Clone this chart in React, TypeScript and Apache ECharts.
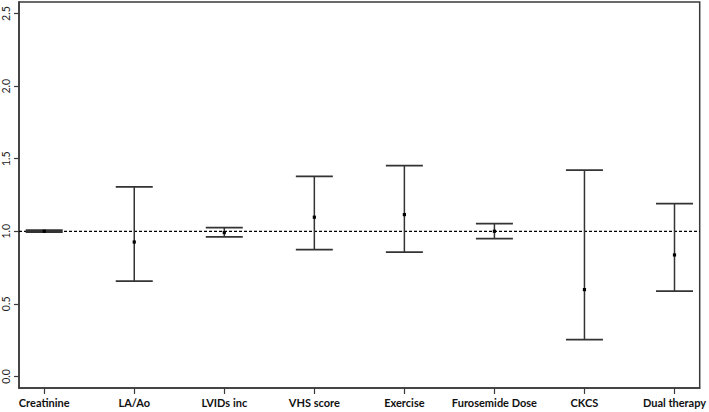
import React, { useEffect, useRef } from "react";
import * as echarts from "echarts";

const categories = ["Creatinine", "LA/Ao", "LVIDs inc", "VHS score", "Exercise", "Furosemide Dose", "CKCS", "Dual therapy"];
const estimates = [1.0, 0.926, 0.991, 1.097, 1.115, 1.0, 0.598, 0.837];
const lowerCI = [0.995, 0.657, 0.961, 0.874, 0.857, 0.95, 0.253, 0.588];
const upperCI = [1.008, 1.306, 1.025, 1.379, 1.453, 1.053, 1.421, 1.191];
const yTicks = [0, 0.5, 1.0, 1.5, 2.0, 2.5];
const referenceValue = 1.0;

export default function App() {
  const ref = useRef<HTMLDivElement>(null);
  useEffect(() => {
    if (!ref.current) return;
    const chart = echarts.init(ref.current, null, { renderer: "svg" });
    const xPos = categories.map((_, i) => i + 1);
    const ebData = categories.map((_, i) => [i + 1, lowerCI[i], upperCI[i], estimates[i]]);
    const axisColor = "#3a3a3a";
    chart.setOption({
      animation: false,
      backgroundColor: "#ffffff",
      grid: {
        left: 17,
        right: 3,
        top: 2,
        bottom: 24,
        show: true,
        borderColor: axisColor,
        borderWidth: 1.5,
        backgroundColor: "transparent",
      },
      xAxis: {
        type: "value",
        min: 0.72,
        max: 8.28,
        splitLine: { show: false },
        axisLine: { show: true, onZero: false, lineStyle: { color: axisColor, width: 1.5 } },
        axisTick: { show: true, customValues: xPos, length: 6, lineStyle: { color: axisColor, width: 1.2 } },
        axisLabel: {
          customValues: xPos,
          margin: 9,
          formatter: (v: number) => categories[Math.round(v) - 1] ?? "",
          fontFamily: "Lato, 'Open Sans', sans-serif",
          fontWeight: "bold",
          fontSize: 11,
          color: "#111",
        },
      },
      yAxis: {
        type: "value",
        min: -0.08,
        max: 2.58,
        splitLine: { show: false },
        axisLine: { show: true, lineStyle: { color: axisColor, width: 1.5 } },
        axisTick: { show: true, customValues: yTicks, length: 5, lineStyle: { color: axisColor, width: 1.2 } },
        axisLabel: {
          customValues: yTicks,
          rotate: 90,
          margin: 8,
          formatter: (v: number) => v.toFixed(1),
          fontFamily: "Lato, 'Open Sans', sans-serif",
          fontSize: 10.5,
          color: "#222",
        },
      },
      series: [
        {
          type: "line",
          data: [[0.72, referenceValue], [8.28, referenceValue]],
          symbol: "none",
          lineStyle: { color: "#000", width: 1.2, type: [3, 2] },
          silent: true,
          z: 1,
        },
        {
          type: "custom",
          data: ebData,
          z: 3,
          renderItem: (params: any, api: any) => {
            const x = api.value(0);
            const lo = api.coord([x, api.value(1)]);
            const hi = api.coord([x, api.value(2)]);
            const pt = api.coord([x, api.value(3)]);
            const hw = 18.5;
            const st = { stroke: "#333", lineWidth: 1.5 };
            return {
              type: "group",
              children: [
                { type: "line", shape: { x1: hi[0], y1: hi[1], x2: lo[0], y2: lo[1] }, style: st },
                { type: "line", shape: { x1: hi[0] - hw, y1: hi[1], x2: hi[0] + hw, y2: hi[1] }, style: { stroke: "#333", lineWidth: 1.8 } },
                { type: "line", shape: { x1: lo[0] - hw, y1: lo[1], x2: lo[0] + hw, y2: lo[1] }, style: { stroke: "#333", lineWidth: 1.8 } },
                { type: "rect", shape: { x: pt[0] - 1.6, y: pt[1] - 1.6, width: 3.2, height: 3.2 }, style: { fill: "#000" } },
              ],
            };
          },
        },
      ],
    });
    return () => chart.dispose();
  }, []);
  return <div ref={ref} style={{ position: "fixed", left: 0, top: 0, width: 709, height: 412 }} />;
}
